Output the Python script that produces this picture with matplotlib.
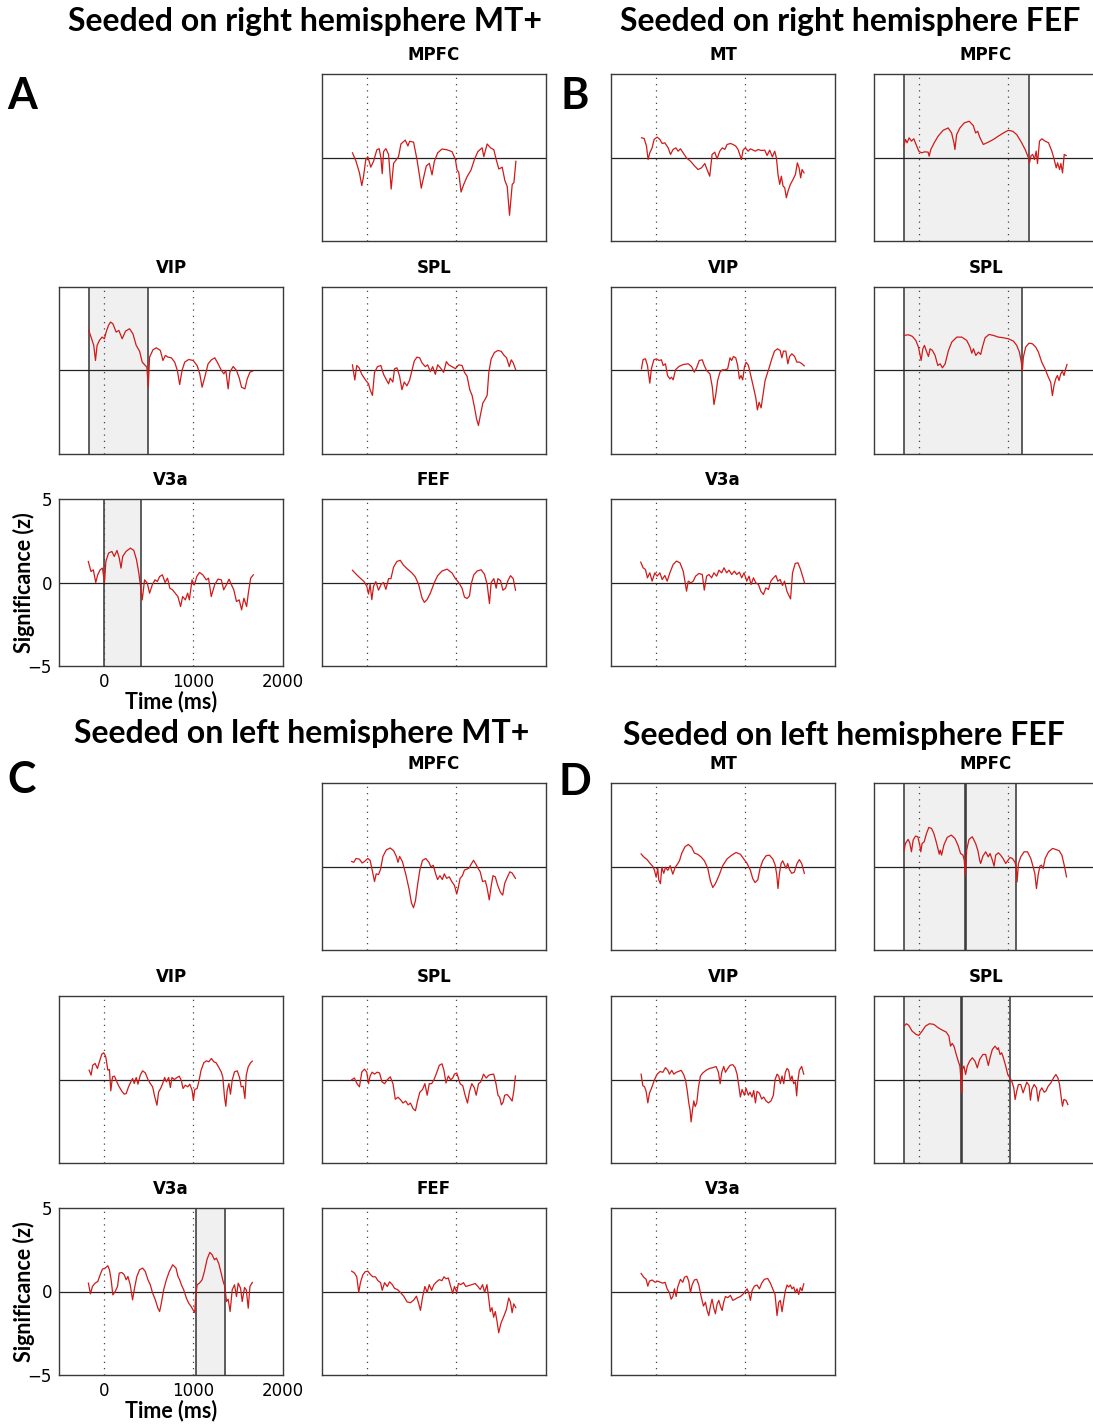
import numpy as np
import matplotlib
matplotlib.use("Agg")
import matplotlib.pyplot as plt

plt.rcParams["font.family"] = ["DejaVu Sans"]

# ---- data: time (ms) / significance (z) ----
a_mpfc_t = [-160, -120, -82, -56, -37, -11, 11, 45, 75, 112, 138, 157, 172, 187, 213, 243, 272, 299, 325, 354, 381, 429, 459, 478, 522, 560, 590, 608, 634, 664, 698, 728, 754, 791, 840, 896, 951, 989, 1007, 1026, 1052, 1082, 1119, 1164, 1201, 1239, 1287, 1306, 1343, 1381, 1418, 1444, 1474, 1511, 1541, 1567, 1593, 1623, 1642, 1664]
a_mpfc_z = [0.28, -0.23, -0.92, -1.68, -1.15, -0.12, 0.05, -0.58, -0.23, 0.46, 0.53, 0.0, -0.97, 0.35, 0.53, 0.18, -1.89, -0.35, -0.16, 0.05, 0.81, 1.04, 0.69, 0.97, 0.92, -0.12, -1.15, -1.84, -1.2, -0.51, -0.35, -1.04, -0.23, 0.28, 0.51, 0.46, 0.35, -0.12, -0.74, -0.88, -2.07, -1.61, -1.15, -0.74, -0.12, 0.35, 0.58, 0.05, 0.81, 0.58, 0.46, -0.12, -0.69, -0.58, -1.38, -1.73, -3.46, -1.61, -1.5, -0.23]

a_vip_t = [-168, -142, -112, -93, -75, -49, -19, 7, 26, 52, 75, 101, 138, 168, 205, 243, 287, 325, 362, 399, 429, 463, 481, 496, 511, 549, 586, 631, 660, 687, 716, 754, 791, 821, 847, 873, 903, 948, 996, 1041, 1071, 1097, 1127, 1164, 1201, 1239, 1276, 1313, 1340, 1362, 1388, 1407, 1444, 1481, 1511, 1537, 1575, 1601, 1631, 1660]
a_vip_z = [2.4, 2.0, 1.5, 0.6, 1.5, 1.8, 2.0, 1.9, 2.3, 2.7, 2.9, 2.8, 2.3, 2.4, 1.9, 2.36, 2.5, 2.2, 1.5, 1.16, 0.5, 0.3, 0.2, -1.0, 0.8, 1.24, 1.36, 1.2, 0.6, 0.9, 0.8, 0.76, 0.5, 0.0, -0.84, 0.0, 0.5, 0.66, 0.6, 0.3, -0.2, -1.0, -0.4, 0.4, 0.64, 0.76, 0.4, 0.0, -0.2, 0.0, -1.1, -0.1, 0.24, 0.0, -0.44, -1.0, -1.1, -0.5, -0.1, -0.04]

a_spl_t = [-160, -134, -112, -86, -56, -19, 19, 37, 63, 86, 119, 157, 187, 216, 243, 261, 291, 310, 336, 366, 392, 418, 448, 478, 504, 530, 560, 590, 616, 653, 679, 709, 735, 765, 791, 821, 858, 888, 914, 951, 989, 1026, 1063, 1090, 1119, 1149, 1175, 1201, 1224, 1246, 1269, 1295, 1321, 1343, 1362, 1388, 1425, 1463, 1500, 1530, 1560, 1590, 1612, 1634, 1660]
a_spl_z = [0.34, -0.57, 0.3, 0.16, -0.23, -0.53, -0.8, -1.15, -1.49, -0.11, 0.23, 0.3, -0.23, -0.53, -0.8, -0.46, -0.69, 0.11, 0.16, -0.34, -1.15, -0.69, -0.92, -0.57, 0.0, 0.57, 0.8, 0.76, 0.46, 0.23, 0.34, -0.07, 0.23, -0.23, 0.34, 0.16, -0.11, 0.53, 0.34, 0.23, 0.11, 0.34, 0.3, -0.11, -0.34, -1.15, -1.49, -2.18, -2.87, -3.29, -2.64, -1.95, -1.72, -1.49, -0.11, 0.69, 1.08, 1.2, 1.15, 0.92, 0.76, 0.23, 0.64, 0.46, 0.07]

a_v3a_t = [-173, -143, -117, -90, -68, -41, -15, 8, 23, 53, 90, 117, 147, 173, 192, 211, 248, 297, 335, 365, 391, 410, 429, 455, 485, 511, 541, 571, 598, 624, 654, 684, 711, 737, 767, 797, 827, 857, 880, 910, 936, 955, 985, 1011, 1038, 1068, 1105, 1143, 1169, 1199, 1237, 1274, 1312, 1338, 1368, 1398, 1425, 1451, 1481, 1511, 1538, 1564, 1594, 1613, 1639, 1669]
a_v3a_z = [1.26, 0.66, 0.76, 0.0, 0.46, 0.76, 0.86, 0.0, 1.26, 1.76, 1.86, 1.56, 1.92, 1.46, 0.86, 1.56, 1.86, 2.06, 1.92, 1.36, 0.56, -0.24, -1.04, 0.16, -0.04, -0.64, -0.14, 0.16, 0.06, 0.36, 0.46, 0.0, 0.26, -0.34, -0.44, -0.64, -0.84, -1.44, -0.84, -1.04, -0.64, -1.04, 0.16, -0.14, 0.36, 0.6, 0.46, 0.16, 0.26, -0.84, -0.14, 0.2, 0.16, -0.44, -0.14, 0.2, -0.14, -0.44, -1.14, -1.04, -1.64, -0.94, -1.44, -0.64, 0.26, 0.46]

a_fef_t = [-160, -112, -67, -30, 0, 19, 37, 56, 75, 101, 131, 160, 187, 213, 243, 269, 299, 336, 373, 410, 455, 504, 541, 578, 616, 642, 672, 709, 754, 791, 840, 896, 951, 989, 1026, 1063, 1090, 1119, 1146, 1164, 1194, 1231, 1276, 1313, 1343, 1369, 1388, 1418, 1444, 1463, 1493, 1519, 1549, 1575, 1604, 1634, 1660]
a_fef_z = [0.73, 0.46, 0.23, 0.05, -0.23, -0.69, -0.11, -1.03, -0.23, 0.05, -0.46, -0.11, 0.0, -0.41, 0.23, 0.23, 0.92, 1.26, 1.33, 1.03, 0.8, 0.57, 0.34, -0.11, -0.92, -1.19, -1.03, -0.64, 0.0, 0.41, 0.69, 0.8, 0.57, 0.23, 0.0, -0.34, -0.87, -0.96, -0.8, -0.11, 0.46, 0.69, 0.76, 0.5, -0.11, -1.26, 0.0, 0.23, -0.34, 0.23, 0.11, -0.46, -0.34, 0.11, 0.41, 0.23, -0.46]

b_mt_t = [-160, -130, -104, -86, -67, -41, -19, 15, 45, 71, 100, 138, 164, 193, 223, 249, 275, 305, 342, 387, 435, 472, 510, 547, 572, 602, 628, 658, 684, 714, 743, 770, 796, 833, 862, 892, 918, 937, 955, 974, 1000, 1030, 1056, 1086, 1112, 1141, 1178, 1216, 1242, 1271, 1301, 1327, 1346, 1364, 1383, 1401, 1420, 1439, 1457, 1476, 1502, 1532, 1558, 1580, 1599, 1617, 1632, 1654]
b_mt_z = [1.18, 1.14, 0.68, -0.12, 0.28, 0.58, 1.08, 1.22, 1.08, 0.84, 0.88, 0.58, 0.18, 0.48, 0.58, 0.38, 0.52, 0.28, -0.02, -0.22, -0.52, -0.72, -0.62, -0.36, -0.72, -1.12, 0.18, 0.32, -0.08, 0.38, 0.58, 0.48, 0.78, 0.84, 0.78, 0.68, 0.48, 0.18, -0.12, 0.44, 0.58, 0.38, 0.52, 0.44, 0.38, 0.48, 0.42, 0.44, 0.12, 0.44, 0.04, 0.38, -0.02, -1.02, -1.61, -1.12, -1.71, -1.81, -2.41, -2.01, -1.61, -1.31, -1.02, -0.32, -0.62, -1.22, -0.72, -0.92]

b_mpfc_t = [-168, -149, -131, -108, -82, -56, -26, 0, 30, 67, 104, 116, 134, 172, 216, 272, 328, 366, 392, 403, 422, 459, 507, 563, 608, 634, 657, 683, 720, 776, 832, 888, 944, 1000, 1049, 1093, 1138, 1187, 1224, 1235, 1254, 1272, 1291, 1310, 1325, 1347, 1373, 1410, 1448, 1485, 1511, 1534, 1549, 1571, 1586, 1604, 1623, 1645]
b_mpfc_z = [0.68, 1.08, 0.88, 1.18, 0.98, 1.12, 0.72, 0.38, 0.28, 0.34, 0.32, 0.08, 0.48, 0.88, 1.28, 1.63, 1.77, 1.47, 0.88, 0.48, 1.37, 1.77, 2.07, 2.17, 1.91, 1.47, 1.57, 1.18, 0.78, 0.92, 1.08, 1.28, 1.47, 1.63, 1.57, 1.37, 0.98, 0.48, -0.02, -0.32, 0.12, 0.18, -0.12, 0.38, -0.36, 0.98, 1.12, 0.98, 0.88, 0.38, -0.12, -0.62, -0.32, -0.72, -0.36, -0.92, 0.18, 0.12]

b_vip_t = [-160, -142, -116, -93, -67, -49, -22, 7, 37, 63, 82, 108, 131, 157, 175, 194, 220, 257, 306, 362, 399, 429, 455, 485, 519, 541, 567, 604, 631, 649, 668, 690, 716, 743, 772, 802, 828, 847, 866, 892, 914, 933, 951, 970, 989, 1007, 1034, 1060, 1090, 1116, 1134, 1153, 1175, 1198, 1220, 1243, 1265, 1295, 1325, 1358, 1388, 1407, 1425, 1451, 1474, 1493, 1519, 1549, 1575, 1604, 1631, 1657]
b_vip_z = [0.1, 0.66, 0.7, 0.3, -0.76, 0.1, 0.64, 0.7, 0.6, 0.64, 0.3, 0.4, -0.3, -0.5, -0.4, -0.56, 0.04, 0.24, 0.36, 0.4, 0.24, -0.1, 0.16, 0.6, 0.64, 0.3, 0.0, -0.2, -1.0, -2.04, -1.5, -0.6, -0.1, 0.04, 0.04, 0.1, 0.76, 0.6, 0.84, 0.76, 0.3, -0.5, -0.3, -0.56, 0.2, 0.5, 0.3, -0.3, -1.0, -1.64, -2.36, -1.9, -2.24, -1.4, -0.6, -0.2, 0.16, 0.7, 1.16, 1.3, 1.2, 0.76, 1.16, 1.16, 0.4, 0.84, 1.0, 0.84, 0.5, 0.5, 0.4, 0.28]

b_spl_t = [-164, -115, -71, -33, -4, 15, 26, 45, 63, 89, 108, 126, 152, 182, 212, 238, 264, 294, 331, 368, 424, 480, 535, 572, 591, 610, 636, 665, 691, 710, 740, 784, 833, 888, 944, 1000, 1056, 1093, 1123, 1141, 1156, 1167, 1193, 1230, 1268, 1305, 1335, 1372, 1409, 1446, 1472, 1491, 1509, 1528, 1547, 1565, 1584, 1602, 1621, 1639, 1654]
b_spl_z = [2.1, 2.14, 2.04, 1.8, 1.4, 0.9, 0.6, 1.3, 1.5, 1.1, 0.84, 1.3, 1.2, 0.9, 0.3, 0.4, 0.16, 0.4, 1.2, 1.7, 2.0, 2.0, 1.8, 1.4, 1.04, 1.3, 0.9, 1.1, 0.96, 1.4, 1.96, 2.16, 2.1, 2.0, 1.96, 1.9, 1.76, 1.5, 1.1, 0.6, 0.0, 0.8, 1.4, 1.64, 1.6, 1.4, 1.1, 0.5, 0.1, -0.4, -0.7, -1.5, -0.9, -0.5, -0.3, -0.6, -0.2, -0.04, -0.3, 0.1, 0.36]

b_v3a_t = [-168, -142, -116, -93, -67, -41, -11, 15, 45, 71, 101, 127, 157, 194, 231, 269, 306, 325, 343, 362, 392, 418, 444, 481, 519, 541, 567, 593, 623, 649, 679, 705, 735, 761, 791, 817, 847, 877, 903, 933, 959, 985, 1015, 1041, 1063, 1090, 1116, 1146, 1172, 1201, 1228, 1257, 1284, 1313, 1340, 1362, 1388, 1414, 1437, 1463, 1489, 1504, 1526, 1556, 1586, 1616, 1638, 1660]
b_v3a_z = [1.22, 0.88, 0.78, 0.28, 0.58, 0.08, 0.58, 0.38, 0.58, 0.18, 0.42, 0.08, 0.58, 1.08, 1.28, 1.18, 0.68, 0.08, -0.52, 0.08, -0.02, 0.08, 0.38, 0.54, 0.48, -0.46, 0.38, 0.48, 0.28, 0.58, 0.38, 0.74, 0.58, 0.88, 0.58, 0.74, 0.48, 0.68, 0.48, 0.62, 0.28, 0.58, 0.08, 0.38, -0.12, 0.28, -0.02, -0.12, -0.52, -0.72, -0.32, -0.42, 0.08, 0.28, 0.42, 0.08, 0.18, -0.18, 0.08, -0.52, -0.82, -0.98, 0.58, 1.14, 1.18, 0.78, 0.38, -0.02]

c_mpfc_t = [-169, -146, -120, -82, -52, -26, 11, 37, 60, 86, 105, 131, 154, 180, 217, 262, 300, 330, 348, 367, 397, 434, 472, 498, 521, 543, 566, 592, 622, 659, 693, 715, 742, 768, 790, 816, 843, 865, 891, 921, 948, 978, 1004, 1022, 1041, 1067, 1090, 1116, 1142, 1165, 1191, 1217, 1240, 1266, 1292, 1322, 1341, 1367, 1386, 1408, 1434, 1461, 1491, 1517, 1539, 1566, 1596, 1622, 1659]
c_mpfc_z = [0.3, 0.25, 0.48, 0.44, 0.21, 0.3, 0.48, 0.37, -0.21, -0.9, -0.44, -0.48, -0.16, 0.6, 0.99, 1.11, 0.94, 0.6, 0.25, 0.6, 0.3, -0.44, -1.36, -2.17, -2.47, -2.05, -1.13, -0.21, 0.37, 0.48, 0.25, -0.02, 0.07, -0.44, -0.78, -0.55, -0.78, -0.44, -0.71, -0.62, -0.9, -1.13, -1.64, -1.24, -0.71, -0.55, -0.21, -0.16, -0.09, 0.14, 0.37, 0.14, -0.09, -0.32, -0.9, -0.85, -1.24, -2.0, -1.24, -0.55, -0.62, -1.13, -1.54, -1.71, -1.01, -0.67, -0.32, -0.39, -0.71]

c_vip_t = [-164, -142, -123, -97, -71, -49, -22, 0, 22, 45, 63, 78, 97, 119, 146, 172, 201, 228, 250, 276, 302, 321, 340, 362, 381, 407, 433, 463, 493, 519, 545, 567, 593, 612, 634, 657, 679, 698, 724, 743, 761, 787, 817, 843, 866, 884, 910, 937, 959, 985, 1000, 1015, 1041, 1060, 1086, 1116, 1146, 1172, 1201, 1228, 1254, 1284, 1310, 1328, 1347, 1362, 1377, 1396, 1414, 1433, 1459, 1489, 1515, 1534, 1556, 1575, 1590, 1612, 1638, 1657]
c_vip_z = [0.56, 0.26, 0.86, 0.96, 0.66, 1.06, 1.52, 1.6, 1.36, 0.56, 0.6, -0.68, 0.16, 0.2, -0.14, -0.44, -0.7, -0.88, -0.84, -0.44, -0.14, 0.06, -0.24, 0.12, -0.28, 0.26, 0.52, 0.4, 0.0, -0.24, -0.44, -1.0, -1.54, -0.74, -0.54, -0.24, 0.12, -0.14, 0.12, -0.48, 0.12, 0.0, 0.12, 0.2, -0.08, -0.54, -0.34, -0.44, -0.28, -0.64, -1.24, -0.6, -0.54, -0.14, 0.56, 1.0, 1.12, 1.06, 1.26, 1.06, 1.0, 0.72, 0.46, 0.16, -1.04, -1.6, -0.64, -0.24, -0.88, -0.04, 0.46, 0.52, 0.12, -0.44, -0.4, -1.14, 0.26, 0.76, 1.0, 1.1]

c_spl_t = [-169, -139, -109, -82, -56, -26, 0, 19, 37, 60, 86, 116, 142, 169, 199, 228, 262, 292, 318, 348, 378, 404, 434, 461, 487, 517, 543, 566, 592, 622, 648, 674, 697, 723, 749, 779, 809, 839, 861, 884, 910, 936, 959, 978, 1004, 1022, 1041, 1071, 1097, 1124, 1146, 1172, 1199, 1221, 1247, 1273, 1303, 1333, 1360, 1386, 1416, 1442, 1464, 1483, 1502, 1521, 1539, 1566, 1592, 1622, 1640, 1659]
c_spl_z = [-0.02, 0.09, -0.25, -0.44, 0.44, 0.62, 0.44, -0.25, 0.21, 0.44, 0.32, 0.44, 0.39, -0.14, -0.25, -0.02, 0.16, -0.25, -1.18, -1.06, -1.22, -1.41, -1.29, -1.52, -1.41, -1.75, -1.87, -1.29, -0.76, -0.6, -0.25, -0.94, -0.25, -0.25, -0.02, 0.39, 0.85, 0.94, 0.55, -0.21, 0.21, -0.02, 0.09, 0.32, 0.39, 0.09, -0.25, -0.37, -0.94, -1.41, -0.71, -0.25, -0.48, -0.94, -0.25, -0.14, 0.32, 0.09, 0.25, 0.3, 0.32, -0.25, -0.94, -1.06, -1.52, -1.36, -0.94, -0.9, -1.06, -1.29, -0.71, 0.21]

c_v3a_t = [-172, -149, -127, -97, -67, -41, -15, 15, 45, 63, 82, 101, 127, 153, 172, 201, 228, 250, 269, 295, 321, 343, 369, 399, 433, 463, 493, 519, 545, 575, 604, 623, 642, 668, 698, 731, 769, 806, 828, 847, 866, 892, 922, 948, 974, 996, 1015, 1026, 1041, 1067, 1097, 1123, 1153, 1183, 1209, 1235, 1257, 1284, 1310, 1332, 1351, 1369, 1388, 1410, 1433, 1459, 1481, 1500, 1526, 1545, 1571, 1590, 1612, 1631, 1657]
c_v3a_z = [0.5, -0.14, 0.3, 0.5, 0.6, 1.0, 1.34, 1.4, 1.54, 1.3, 0.7, -0.2, 0.0, 0.3, 1.1, 1.14, 1.0, 0.7, 0.9, 0.4, -0.5, 0.2, 0.9, 1.3, 1.4, 1.2, 0.7, 0.4, -0.1, -0.5, -1.0, -1.2, -0.7, 0.1, 0.7, 1.2, 1.6, 1.4, 0.9, 0.7, 0.4, 0.1, -0.4, -0.7, -0.9, -1.1, -1.26, -0.3, 0.4, 0.5, 0.7, 1.2, 1.94, 2.34, 2.2, 1.9, 2.0, 1.66, 1.1, 0.6, 0.3, -0.6, -0.46, -1.2, 0.1, 0.4, -0.3, 0.5, 0.2, -0.6, 0.24, 0.1, -1.0, 0.3, 0.54]

c_fef_t = [-169, -139, -112, -90, -71, -45, -19, 11, 37, 67, 97, 124, 154, 172, 199, 228, 255, 285, 311, 341, 375, 412, 449, 487, 524, 554, 580, 599, 622, 648, 674, 697, 723, 749, 779, 809, 839, 861, 884, 910, 936, 959, 978, 1004, 1022, 1049, 1079, 1105, 1135, 1172, 1210, 1240, 1266, 1292, 1315, 1341, 1360, 1378, 1397, 1416, 1434, 1453, 1472, 1498, 1528, 1558, 1584, 1603, 1622, 1640, 1663]
c_fef_z = [1.22, 1.11, 0.88, -0.05, 0.53, 0.99, 1.18, 1.22, 1.04, 0.88, 0.88, 0.65, 0.53, 0.07, 0.53, 0.3, 0.58, 0.41, 0.18, 0.12, -0.05, -0.28, -0.62, -0.67, -0.51, -0.28, -0.74, -1.13, -0.35, 0.3, -0.05, 0.41, 0.07, 0.41, 0.58, 0.71, 0.65, 0.88, 0.76, 0.81, 0.3, -0.12, 0.3, -0.05, 0.48, 0.41, 0.53, 0.3, 0.35, 0.41, 0.48, 0.3, 0.12, 0.41, -0.05, 0.41, -0.39, -1.2, -0.97, -1.54, -1.2, -1.77, -2.47, -1.89, -1.5, -1.08, -0.39, -0.62, -1.27, -0.74, -0.97]

d_mt_t = [-164, -134, -97, -63, -33, -15, 4, 22, 33, 52, 67, 89, 108, 134, 160, 190, 216, 238, 264, 290, 327, 364, 401, 431, 468, 506, 543, 580, 610, 636, 665, 703, 747, 796, 848, 896, 944, 981, 1019, 1056, 1082, 1108, 1138, 1164, 1193, 1230, 1268, 1305, 1331, 1349, 1364, 1379, 1398, 1416, 1435, 1454, 1472, 1491, 1517, 1546, 1576, 1602, 1628, 1658]
d_mt_z = [0.75, 0.57, 0.41, 0.18, 0.0, -0.23, -0.64, -0.11, -0.8, -1.03, -0.05, -0.41, -0.05, -0.23, 0.05, -0.46, -0.05, 0.11, 0.34, 0.8, 1.19, 1.32, 1.14, 0.8, 0.73, 0.57, 0.34, -0.11, -0.87, -1.26, -1.03, -0.57, 0.05, 0.46, 0.68, 0.84, 0.73, 0.46, 0.18, -0.23, -0.73, -0.96, -0.8, -0.11, 0.34, 0.64, 0.68, 0.46, 0.11, -0.46, -1.32, -0.46, 0.18, 0.34, 0.11, -0.11, 0.18, -0.18, -0.41, -0.34, 0.18, 0.41, 0.18, -0.41]

d_mpfc_t = [-164, -149, -119, -101, -82, -63, -37, -11, 11, 22, 37, 60, 86, 112, 142, 168, 194, 213, 228, 239, 254, 280, 317, 362, 403, 437, 466, 493, 507, 519, 534, 560, 597, 634, 660, 679, 690, 716, 746, 776, 795, 821, 840, 858, 888, 914, 940, 970, 996, 1019, 1045, 1071, 1086, 1097, 1112, 1138, 1175, 1213, 1250, 1276, 1295, 1313, 1332, 1351, 1369, 1388, 1410, 1448, 1493, 1530, 1567, 1597, 1623, 1649]
d_mpfc_z = [0.98, 1.38, 1.62, 1.42, 0.88, 1.58, 1.82, 1.78, 1.28, 0.88, 1.38, 1.48, 1.98, 2.34, 2.28, 1.98, 1.48, 1.08, 0.74, 0.98, 0.68, 1.28, 1.74, 1.88, 1.68, 1.28, 0.78, 0.68, 0.38, -0.52, 0.98, 1.62, 1.78, 1.38, 0.94, 0.38, 0.18, 0.62, 0.88, 0.58, 0.78, 0.38, 0.02, 0.68, 0.82, 0.68, 0.48, 0.18, 0.38, 0.54, 0.48, 0.28, 0.02, -0.92, 0.18, 0.58, 0.88, 0.88, 0.48, -0.02, -0.42, -1.32, -0.52, 0.02, 0.08, -0.12, 0.48, 0.88, 1.08, 1.02, 0.94, 0.68, 0.08, -0.62]

d_vip_t = [-164, -145, -126, -108, -89, -71, -45, -15, 15, 48, 78, 108, 134, 152, 178, 201, 227, 253, 283, 309, 331, 349, 368, 383, 394, 409, 424, 439, 457, 476, 498, 524, 561, 599, 636, 673, 699, 718, 736, 758, 777, 803, 829, 859, 885, 907, 926, 944, 963, 989, 1007, 1033, 1052, 1074, 1093, 1112, 1130, 1156, 1182, 1204, 1230, 1257, 1286, 1312, 1331, 1353, 1372, 1390, 1409, 1428, 1446, 1465, 1483, 1502, 1520, 1539, 1558, 1572, 1584, 1602, 1628, 1651]
d_vip_z = [0.32, -0.37, -0.43, -0.71, -1.4, -0.82, -0.48, -0.02, 0.32, 0.48, 0.43, 0.71, 0.55, 0.32, 0.55, 0.32, 0.43, 0.48, 0.55, 0.32, -0.02, -0.6, -1.4, -1.85, -2.54, -1.85, -1.28, -1.62, -1.4, -0.48, 0.21, 0.39, 0.55, 0.66, 0.71, 0.78, 0.43, -0.25, 0.43, 0.78, 0.43, 0.66, 0.85, 0.89, 0.71, 0.32, -0.37, -1.05, -0.6, -0.94, -0.53, -0.94, -0.76, -1.05, -0.66, -1.4, -0.71, -0.82, -1.17, -1.05, -1.28, -1.4, -1.28, -0.94, -0.02, 0.32, 0.21, -0.25, 0.21, -0.25, 0.43, 0.66, 0.55, -0.07, 0.21, -0.25, -0.14, -0.98, -0.14, 0.55, 0.78, 0.32]

d_spl_t = [-164, -138, -112, -75, -30, 0, 37, 75, 119, 168, 216, 261, 306, 336, 354, 373, 392, 418, 440, 459, 470, 478, 485, 504, 522, 541, 567, 597, 627, 653, 679, 716, 746, 776, 795, 821, 851, 877, 888, 907, 925, 944, 970, 993, 1015, 1037, 1060, 1075, 1093, 1112, 1138, 1164, 1183, 1205, 1231, 1246, 1261, 1287, 1313, 1332, 1351, 1373, 1399, 1418, 1444, 1474, 1504, 1530, 1552, 1571, 1590, 1604, 1619, 1642, 1664]
d_spl_z = [3.2, 3.34, 3.24, 2.9, 2.7, 2.64, 2.9, 3.2, 3.34, 3.3, 3.1, 2.96, 2.84, 2.6, 2.0, 2.16, 2.0, 1.5, 1.1, 0.8, 0.0, -0.8, 0.6, 0.8, 0.3, 0.8, 1.1, 1.3, 1.1, 0.7, 1.2, 1.5, 1.5, 0.84, 1.3, 1.8, 2.0, 1.8, 1.9, 1.5, 1.6, 1.3, 0.8, 0.3, 0.1, -0.1, -0.5, -1.2, -0.7, -0.3, -0.3, -0.8, -0.5, -0.16, -0.36, -1.24, -0.6, -0.3, -0.5, -1.3, -0.7, -0.5, -0.76, -0.7, -0.4, -0.2, 0.1, 0.3, 0.1, -0.3, -1.1, -1.6, -1.2, -1.24, -1.5]

d_v3a_t = [-164, -134, -108, -89, -71, -41, -7, 22, 52, 78, 104, 126, 152, 171, 190, 208, 227, 245, 275, 301, 320, 346, 368, 387, 405, 431, 457, 480, 506, 532, 554, 573, 591, 610, 628, 647, 665, 684, 703, 721, 740, 758, 777, 803, 833, 859, 885, 914, 944, 970, 996, 1019, 1037, 1056, 1074, 1100, 1130, 1156, 1182, 1212, 1249, 1279, 1305, 1331, 1353, 1372, 1390, 1409, 1428, 1446, 1465, 1483, 1502, 1520, 1539, 1558, 1576, 1595, 1613, 1632, 1651]
d_v3a_z = [1.08, 0.85, 0.73, 0.32, 0.62, 0.69, 0.55, 0.62, 0.55, 0.5, 0.55, 0.16, -0.07, -0.46, -0.3, 0.16, -0.3, 0.27, 0.73, 0.55, 0.85, 0.92, 0.62, -0.07, 0.39, 0.69, 0.73, 0.39, -0.3, -0.87, -0.64, -1.14, -1.44, -0.87, -0.46, -0.98, -1.33, -0.76, -0.53, -0.87, -1.14, -0.64, -0.3, -0.37, -0.23, -0.53, -0.46, -0.37, -0.3, -0.18, 0.0, 0.16, -0.07, -0.53, 0.05, 0.32, 0.39, 0.16, 0.5, 0.73, 0.78, 0.5, 0.16, -0.18, -1.44, -0.64, -0.53, -1.21, -0.53, 0.05, 0.39, 0.27, 0.39, 0.16, 0.27, -0.07, 0.16, -0.18, 0.23, 0.05, 0.46]

# significant windows (ms) drawn as grey bands
a_vip_sig = [(-168, 490)]
a_v3a_sig = [(5, 410)]
b_mpfc_sig = [(-170, 1228)]
b_spl_sig = [(-164, 1156)]
c_v3a_sig = [(1025, 1350)]
d_mpfc_sig = [(-164, 515), (523, 1086)]
d_spl_sig = [(-164, 474), (482, 1022)]

panel_titles = ["Seeded on right hemisphere MT+", "Seeded on right hemisphere FEF",
                "Seeded on left hemisphere MT+", "Seeded on left hemisphere FEF"]
panel_letters = ["A", "B", "C", "D"]

W, H = 1093, 1425
fig = plt.figure(figsize=(W / 100, H / 100), dpi=100)

col_x = [59, 322, 611, 874]
row_y_top = [74, 287, 499]
row_y_bot = [783, 996, 1208]
bw, bh = 224, 167


def subplot(col, row_y, name, t, z, sig=(), labels=False):
    ax = fig.add_axes([col_x[col] / W, 1 - (row_y + bh) / H, bw / W, bh / H])
    for s0, s1 in sig:
        ax.axvspan(s0, s1, facecolor="#f0f0f0", edgecolor="none", zorder=0)
        ax.axvline(s0, color="#333333", lw=1.1, zorder=1)
        ax.axvline(s1, color="#333333", lw=1.1, zorder=1)
    ax.axvline(0, color="#444444", lw=0.9, ls=(0, (1, 4)), zorder=1)
    ax.axvline(1000, color="#444444", lw=0.9, ls=(0, (1, 4)), zorder=1)
    ax.axhline(0, color="#222222", lw=0.9, zorder=2)
    ax.plot(t, z, color="#d01a1a", lw=0.9, zorder=3)
    ax.set_xlim(-500, 2000)
    ax.set_ylim(-5, 5)
    for sp in ax.spines.values():
        sp.set_color("#3a3a3a")
        sp.set_linewidth(1.0)
    ax.set_title(name, fontsize=12, fontweight="bold", pad=10)
    ax.tick_params(length=0, labelsize=12, pad=5)
    if labels:
        ax.set_xticks([0, 1000, 2000])
        ax.set_yticks([-5, 0, 5])
        ax.set_yticklabels(["\u22125", "0", "5"])
        ax.set_xlabel("Time (ms)", fontsize=15.5, fontweight="bold",
                      family="Lato", labelpad=0)
        ax.set_ylabel("Significance (z)", fontsize=15.5, fontweight="bold",
                      family="Lato")
        ax.yaxis.set_label_coords(-0.105, 0.5)
    else:
        ax.set_xticks([])
        ax.set_yticks([])
    return ax


# A: seeded on right MT+
subplot(1, row_y_top[0], "MPFC", a_mpfc_t, a_mpfc_z)
subplot(0, row_y_top[1], "VIP", a_vip_t, a_vip_z, a_vip_sig)
subplot(1, row_y_top[1], "SPL", a_spl_t, a_spl_z)
subplot(0, row_y_top[2], "V3a", a_v3a_t, a_v3a_z, a_v3a_sig, labels=True)
subplot(1, row_y_top[2], "FEF", a_fef_t, a_fef_z)

# B: seeded on right FEF
subplot(2, row_y_top[0], "MT", b_mt_t, b_mt_z)
subplot(3, row_y_top[0], "MPFC", b_mpfc_t, b_mpfc_z, b_mpfc_sig)
subplot(2, row_y_top[1], "VIP", b_vip_t, b_vip_z)
subplot(3, row_y_top[1], "SPL", b_spl_t, b_spl_z, b_spl_sig)
subplot(2, row_y_top[2], "V3a", b_v3a_t, b_v3a_z)

# C: seeded on left MT+
subplot(1, row_y_bot[0], "MPFC", c_mpfc_t, c_mpfc_z)
subplot(0, row_y_bot[1], "VIP", c_vip_t, c_vip_z)
subplot(1, row_y_bot[1], "SPL", c_spl_t, c_spl_z)
subplot(0, row_y_bot[2], "V3a", c_v3a_t, c_v3a_z, c_v3a_sig, labels=True)
subplot(1, row_y_bot[2], "FEF", c_fef_t, c_fef_z)

# D: seeded on left FEF
subplot(2, row_y_bot[0], "MT", d_mt_t, d_mt_z)
subplot(3, row_y_bot[0], "MPFC", d_mpfc_t, d_mpfc_z, d_mpfc_sig)
subplot(2, row_y_bot[1], "VIP", d_vip_t, d_vip_z)
subplot(3, row_y_bot[1], "SPL", d_spl_t, d_spl_z, d_spl_sig)
subplot(2, row_y_bot[2], "V3a", d_v3a_t, d_v3a_z)

# panel headings and letters
title_xy = [(305, 22), (850, 22), (302, 734), (844, 736)]
letter_xy = [(22, 96), (575, 96), (22, 780), (575, 782)]
for txt, (x, y) in zip(panel_titles, title_xy):
    fig.text(x / W, 1 - y / H, txt, ha="center", va="center",
             fontsize=23, fontweight="bold", family="Lato")
for txt, (x, y) in zip(panel_letters, letter_xy):
    fig.text(x / W, 1 - y / H, txt, ha="center", va="center",
             fontsize=31, fontweight="bold", family="Lato")

fig.savefig("out.png", dpi=100)
